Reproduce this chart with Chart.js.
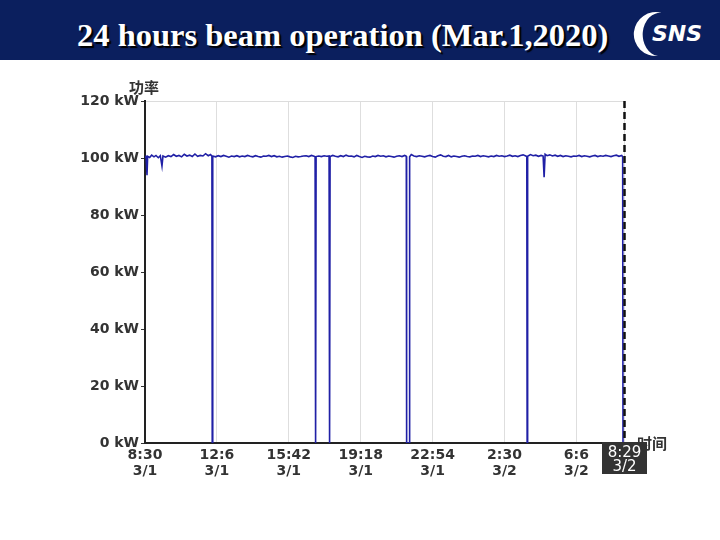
<!DOCTYPE html>
<html><head><meta charset="utf-8">
<script src="https://cdn.jsdelivr.net/npm/chart.js@4/dist/chart.umd.min.js"></script>
<style>
html,body{margin:0;padding:0;background:#fff;}
#wrap{position:relative;width:720px;height:540px;overflow:hidden;background:#fff;}
#hdr{position:absolute;left:0;top:0;width:720px;height:60px;background:#0b1f5e;}
#title{position:absolute;left:77px;top:19px;font:bold 32.5px "Liberation Serif","Times New Roman",serif;color:#fff;white-space:nowrap;line-height:1;text-shadow:2px 2px 1px #000;}
#logo{position:absolute;left:622px;top:8px;}
canvas{position:absolute;left:0;top:0;}
</style></head>
<body><div id="wrap">
<canvas id="c" width="720" height="540"></canvas>
<div id="hdr"><div id="title">24 hours beam operation (Mar.1,2020)</div>
<svg id="logo" width="95" height="52">
<path d="M 40 5 A 22 22 0 1 0 36 48 A 16 20 0 1 1 40 5 Z" fill="#fff"/>
<text x="30" y="33" font-family="DejaVu Sans" font-weight="bold" font-style="italic" font-size="22" fill="#fff">SNS</text>
</svg></div>
</div>
<script>
// minutes since 8:30 on 3/1
const minutes = [0,3,6,8,14,20,27,33,40,46,51,54,62,70,78,86,94,102,110,118,126,134,142,150,158,166,174,182,190,197,201,202,203,204,212,220,228,236,244,252,260,268,276,284,292,300,308,316,324,332,340,348,356,364,372,380,388,396,404,412,420,428,436,444,452,460,468,476,484,492,500,508,511,512,513,514,522,530,538,546,553,554,555,556,564,572,580,588,596,604,612,620,628,636,644,652,660,668,676,684,692,700,708,716,724,732,740,748,756,764,772,780,785,786,794,795,800,808,816,824,832,840,848,856,864,872,880,888,896,904,912,920,928,936,944,952,960,968,976,984,992,1000,1008,1016,1024,1032,1040,1048,1056,1064,1072,1080,1088,1096,1104,1112,1120,1128,1136,1144,1147,1148,1149,1150,1158,1166,1174,1182,1190,1196,1199,1202,1208,1216,1224,1232,1240,1248,1256,1264,1272,1280,1288,1296,1304,1312,1320,1328,1336,1344,1352,1360,1368,1376,1384,1392,1400,1408,1416,1424,1432,1435,1436,1439];
// beam power, kW
const powerKW = [100.3,100.9,94.0,100.6,100.2,101.0,100.4,100.9,100.1,100.8,97.2,100.7,100.3,100.8,100.5,101.2,100.6,100.9,100.4,101.3,100.7,101.0,100.5,101.4,100.6,100.9,100.7,101.5,100.8,101.2,100.6,0,0,100.7,100.4,100.8,100.5,100.9,100.6,100.3,100.7,100.5,100.8,100.4,100.7,100.5,100.9,100.6,100.4,100.8,100.5,100.3,100.7,100.6,100.9,100.5,100.8,100.4,100.6,100.3,100.5,100.7,100.4,100.2,100.6,100.4,100.5,100.7,100.8,100.5,100.9,100.6,100.4,0,0,100.5,100.7,100.5,100.8,100.6,100.7,0,0,100.5,100.9,100.6,100.4,100.8,100.5,101.0,100.6,100.7,100.4,100.9,100.5,100.2,100.6,100.4,100.3,100.7,100.5,100.9,100.6,100.8,100.4,100.7,100.5,100.3,100.6,100.8,100.5,100.9,100.6,0,0,100.4,101.2,100.7,100.5,100.8,100.6,100.4,100.7,100.9,100.5,100.3,100.8,101.1,100.6,100.5,100.9,100.4,100.7,100.5,100.3,100.6,100.8,100.5,100.4,100.7,100.6,100.9,100.5,100.8,100.6,100.4,100.7,100.5,100.9,100.6,100.8,100.5,100.7,101.0,100.6,100.8,100.5,100.9,101.1,100.7,100.5,0,0,100.6,101.2,100.8,101.0,100.6,100.9,100.7,93.3,101.3,100.8,101.1,100.7,101.0,100.6,100.9,100.5,100.8,100.6,100.4,100.7,100.6,100.9,100.5,100.8,100.6,100.4,100.7,100.9,100.5,100.8,100.6,100.9,100.7,100.5,100.8,101.0,100.6,100.9,100.4,0,0];
const tickMinutes = [0,216,432,648,864,1080,1296,1439];
const tickLabels = [["8:30","3/1"],["12:6","3/1"],["15:42","3/1"],["19:18","3/1"],["22:54","3/1"],["2:30","3/2"],["6:6","3/2"],["8:29","3/2"]];
const yTicks = [0,20,40,60,80,100,120];
const yUnit = ' kW';
const yAxisTitle = '功率';
const xAxisTitle = '时间';

const LAST = tickMinutes.length - 1;
const tickFont = {family:'"DejaVu Sans"', size:14, weight:'bold', lineHeight:1.1};

const extras = {
  id:'extras',
  afterDatasetsDraw(chart){
    const {ctx, chartArea, scales} = chart;
    const x = Math.round(scales.x.getPixelForValue(tickMinutes[LAST])) + 0.5;
    ctx.save();
    ctx.strokeStyle = '#111';
    ctx.lineWidth = 2.5;
    ctx.setLineDash([7,4]);
    ctx.beginPath();
    ctx.moveTo(x, chartArea.top);
    ctx.lineTo(x, chartArea.bottom);
    ctx.stroke();
    ctx.setLineDash([]);
    ctx.fillStyle = '#333';
    ctx.font = 'bold 15px "Noto Sans CJK SC"';
    ctx.textAlign = 'center';
    ctx.textBaseline = 'middle';
    ctx.fillText(yAxisTitle, chartArea.left - 1, chartArea.top - 14);
    ctx.fillText(xAxisTitle, chartArea.right + 28, chartArea.bottom);
    // highlighted last tick label
    const bx = Math.round(x - 23), by = chartArea.bottom - 1;
    ctx.fillStyle = '#333';
    ctx.fillRect(bx, by, 45, 32);
    ctx.fillStyle = '#fff';
    ctx.font = '15px "DejaVu Sans"';
    ctx.fillText(tickLabels[LAST][0], x, by + 11);
    ctx.fillText(tickLabels[LAST][1], x, by + 25);
    ctx.restore();
  }
};

new Chart(document.getElementById('c'), {
  type:'line',
  data:{datasets:[{
    data: minutes.map((m,i)=>({x:m, y:powerKW[i]})),
    borderColor:'#2020a6',
    borderWidth:1.6,
    pointRadius:0,
    tension:0,
    fill:false
  }]},
  options:{
    responsive:false,
    animation:false,
    layout:{padding:{top:101,right:96,bottom:0,left:0}},
    plugins:{legend:{display:false},tooltip:{enabled:false}},
    scales:{
      x:{
        type:'linear', min:0, max:tickMinutes[LAST],
        afterBuildTicks: s => { s.ticks = tickMinutes.map(v=>({value:v})); },
        afterFit: s => { s.height = 97; },
        border:{color:'#222', width:2},
        grid:{color:'#dedede', lineWidth:1, drawTicks:false},
        ticks:{
          autoSkip:false, maxRotation:0, minRotation:0, padding:5,
          font: tickFont,
          color:'#333',
          callback:(v,i)=> i===LAST ? '' : tickLabels[i]
        }
      },
      y:{
        min:0, max:120,
        afterBuildTicks: s => { s.ticks = yTicks.map(v=>({value:v})); },
        afterFit: s => { s.width = 145; },
        border:{color:'#222', width:2},
        grid:{color: c => (c.tick && c.tick.value===120) ? '#dcdcdc' : 'rgba(0,0,0,0)', tickColor:'#333', tickLength:4},
        ticks:{padding:2, color:'#333', font:tickFont, callback:v=>v+yUnit}
      }
    }
  },
  plugins:[extras]
});
</script>
</body></html>
